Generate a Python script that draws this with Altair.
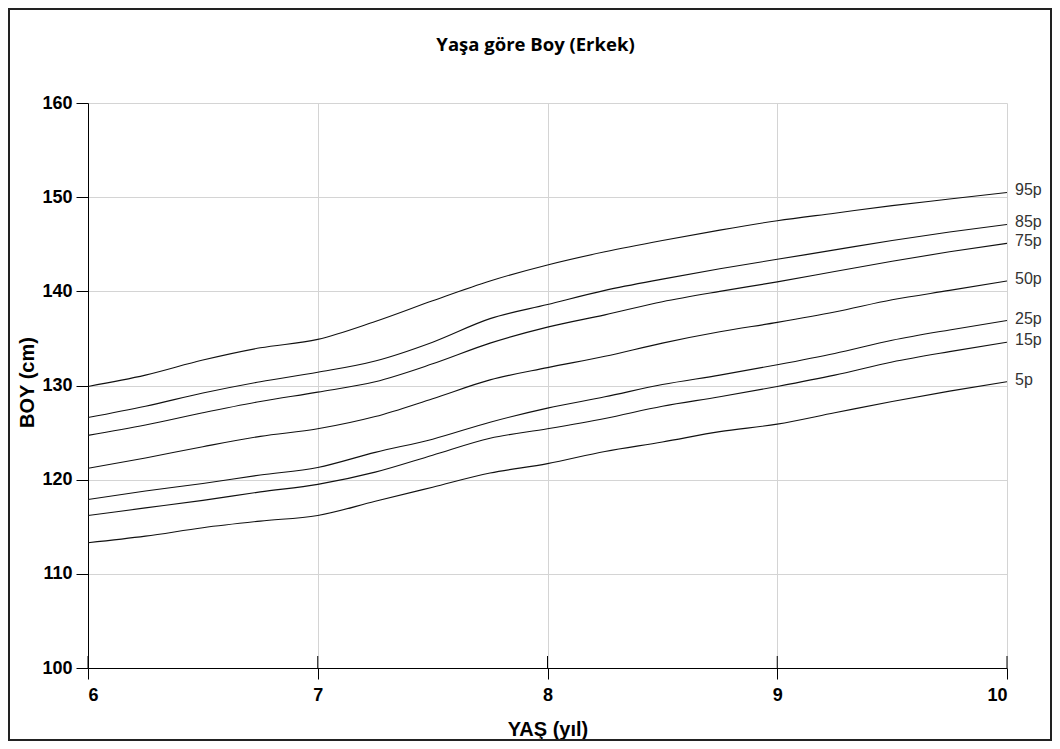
import altair as alt
import pandas as pd

# --- data ---
ages = [6.0, 6.25, 6.5, 6.75, 7.0, 7.25, 7.5, 7.75, 8.0, 8.25, 8.5, 8.75, 9.0, 9.25, 9.5, 9.75, 10.0]
p95 = [129.9, 131.1, 132.7, 134.0, 134.9, 136.8, 139.0, 141.1, 142.8, 144.2, 145.4, 146.5, 147.5, 148.3, 149.1, 149.8, 150.5]
p85 = [126.6, 127.8, 129.2, 130.4, 131.4, 132.6, 134.6, 137.1, 138.6, 140.1, 141.3, 142.4, 143.4, 144.4, 145.4, 146.3, 147.1]
p75 = [124.7, 125.8, 127.1, 128.3, 129.3, 130.4, 132.3, 134.5, 136.2, 137.5, 138.9, 140.0, 141.0, 142.1, 143.2, 144.2, 145.1]
p50 = [121.2, 122.3, 123.5, 124.6, 125.4, 126.7, 128.6, 130.6, 131.9, 133.1, 134.5, 135.7, 136.7, 137.8, 139.1, 140.1, 141.1]
p25 = [117.9, 118.8, 119.6, 120.5, 121.3, 122.9, 124.3, 126.1, 127.6, 128.8, 130.1, 131.1, 132.2, 133.4, 134.8, 135.9, 136.9]
p15 = [116.2, 117.0, 117.8, 118.7, 119.5, 120.8, 122.6, 124.4, 125.4, 126.5, 127.8, 128.8, 129.9, 131.1, 132.5, 133.6, 134.6]
p5 = [113.3, 114.0, 114.9, 115.6, 116.2, 117.7, 119.2, 120.7, 121.7, 123.0, 124.0, 125.1, 125.9, 127.1, 128.3, 129.4, 130.4]

percentiles = ["95p", "85p", "75p", "50p", "25p", "15p", "5p"]
series = [p95, p85, p75, p50, p25, p15, p5]

x_ticks = [6, 7, 8, 9, 10]
y_ticks = [100, 110, 120, 130, 140, 150, 160]

title_text = "Yaşa göre Boy (Erkek)"
x_title = "YAŞ (yıl)"
y_title = "BOY (cm)"

rows = []
for name, vals in zip(percentiles, series):
    for a, v in zip(ages, vals):
        rows.append({"age": a, "height": v, "pct": name})
df = pd.DataFrame(rows)
end_df = df[df["age"] == max(ages)]
tick_df = pd.DataFrame({"age": x_ticks})

W, H = 919, 565
x_scale = alt.Scale(domain=[6, 10], nice=False, zero=False)
y_scale = alt.Scale(domain=[100, 160], nice=False, zero=False)

x_enc = alt.X(
    "age:Q",
    scale=x_scale,
    title=x_title,
    axis=alt.Axis(
        values=x_ticks,
        format="d",
        tickSize=11,
        labelPadding=7,
        titleY=67,
        titleBaseline="alphabetic",
    ),
)
y_enc = alt.Y(
    "height:Q",
    scale=y_scale,
    title=y_title,
    axis=alt.Axis(
        values=y_ticks,
        format="d",
        tickSize=12,
        labelPadding=4,
        titleX=-55,
        titleY=279,
        titleBaseline="alphabetic",
    ),
)

lines = alt.Chart(df).mark_line(
    color="#111111", strokeWidth=1.1, interpolate="monotone"
).encode(x=x_enc, y=y_enc, detail="pct:N")

upper_ticks = alt.Chart(tick_df).mark_rule(color="black", strokeWidth=1).encode(
    x=x_enc,
    y=alt.value(H - 12),
    y2=alt.value(H),
)

labels = alt.Chart(end_df).mark_text(
    align="left", baseline="middle", dx=8, dy=-2, fontSize=16,
    font="Liberation Sans", color="#333333"
).encode(x=x_enc, y=y_enc, text="pct:N")

frame = alt.Chart(pd.DataFrame({"k": [0]})).mark_rect(
    fillOpacity=0, stroke="#222222", strokeWidth=2
).encode(
    x=alt.value(-79), x2=alt.value(W + 44), y=alt.value(-94), y2=alt.value(H + 72)
)

chart = alt.layer(lines, upper_ticks, labels, frame).properties(
    width=W,
    height=H,
    autosize=alt.AutoSizeParams(type="none"),
    padding={"left": 80, "top": 95, "right": 45, "bottom": 73},
    background="white",
    title=alt.TitleParams(
        text=title_text,
        anchor="middle",
        frame="group",
        dx=-12,
        offset=-61,
        baseline="alphabetic",
        font="Open Sans",
        fontSize=18.5,
        fontWeight="bold",
        color="black",
    ),
).configure_view(
    strokeWidth=0
).configure_axis(
    gridColor="#d4d4d4",
    gridWidth=1,
    domainColor="black",
    domainWidth=1,
    tickColor="black",
    labelColor="black",
    titleColor="black",
    labelFont="Liberation Sans",
    labelFontSize=18,
    labelFontWeight="bold",
    titleFont="Liberation Sans",
    titleFontSize=20,
    titleFontWeight="bold",
)

chart.save("out.html", embed_options={"renderer": "svg", "actions": False})
